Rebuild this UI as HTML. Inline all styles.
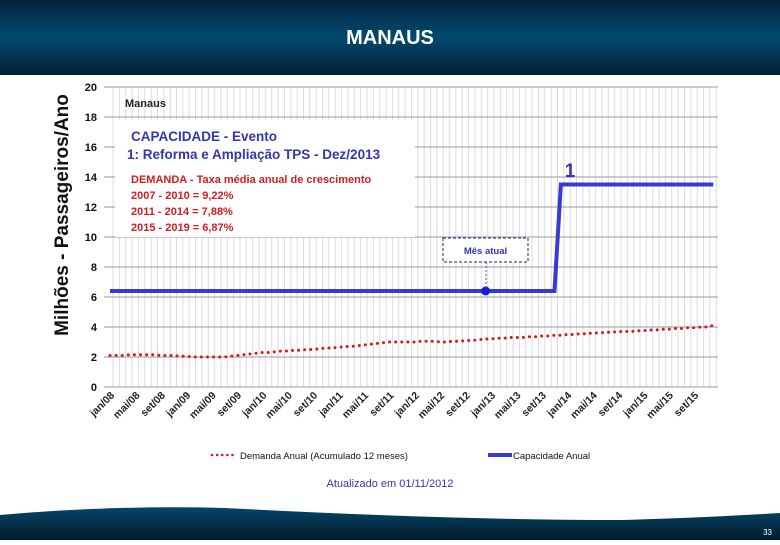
<!DOCTYPE html>
<html><head><meta charset="utf-8"><style>
body{margin:0;width:780px;height:540px;overflow:hidden;background:#fff;font-family:"Liberation Sans",sans-serif}
</style></head><body>
<svg width="780" height="540" xmlns="http://www.w3.org/2000/svg">
<defs>
<linearGradient id="hd" x1="0" y1="0" x2="0" y2="1">
<stop offset="0" stop-color="#06223a"/><stop offset="0.5" stop-color="#024a70"/><stop offset="1" stop-color="#051d30"/></linearGradient>
<linearGradient id="ft" x1="0" y1="0" x2="0" y2="1">
<stop offset="0" stop-color="#03466a"/><stop offset="1" stop-color="#041a2c"/></linearGradient>
</defs>
<rect x="0" y="0" width="780" height="75" fill="url(#hd)"/>
<text x="390" y="44" text-anchor="middle" font-size="20" font-weight="bold" fill="#fff">MANAUS</text>
<path d="M0,515 Q110,505 225,508 Q450,520 620,520 Q700,518 780,513 L780,540 L0,540 Z" fill="url(#ft)"/>
<text x="772" y="535" text-anchor="end" font-size="8" fill="#fff">33</text>
<g id="chart"></g>
<text transform="translate(68,215) rotate(-90)" text-anchor="middle" font-size="19" font-weight="bold" fill="#111">Milhões - Passageiros/Ano</text>
<rect x="115" y="120" width="300" height="117" fill="#fff"/>
<text x="125" y="107" font-size="11" font-weight="bold" fill="#222">Manaus</text>
<text x="131" y="141" font-size="13.5" font-weight="bold" fill="#3535b0">CAPACIDADE - Evento</text>
<text x="127" y="159" font-size="13.5" font-weight="bold" fill="#3535b0">1:  Reforma e Ampliação TPS - Dez/2013</text>
<g font-size="11" font-weight="bold" fill="#d11d1d">
<text x="131" y="183">DEMANDA - Taxa média anual de crescimento</text>
<text x="131" y="199">2007 - 2010 = 9,22%</text>
<text x="131" y="215">2011 - 2014 = 7,88%</text>
<text x="131" y="231">2015 - 2019 = 6,87%</text>
</g>
<rect x="443" y="238" width="85" height="24" fill="#fff" stroke="#222266" stroke-dasharray="3,2"/>
<text x="485.5" y="254" text-anchor="middle" font-size="9.5" font-weight="bold" fill="#3535b0">Mês atual</text>
<line x1="486" y1="262" x2="486" y2="290" stroke="#5555aa" stroke-dasharray="2,2"/>
<text x="570" y="177" text-anchor="middle" font-size="19" font-weight="bold" fill="#3535b0">1</text>
<g>
<line x1="212" y1="455" x2="235" y2="455" stroke="#d11d1d" stroke-width="2.5" stroke-dasharray="0.1,5" stroke-linecap="round"/>
<text x="240" y="459" font-size="9.5" fill="#111">Demanda Anual (Acumulado 12 meses)</text>
<line x1="488" y1="455" x2="512" y2="455" stroke="#3a3ad0" stroke-width="4"/>
<text x="513" y="459" font-size="9.5" fill="#111">Capacidade Anual</text>
</g>
<text x="390" y="487" text-anchor="middle" font-size="11" fill="#3535b0">Atualizado em 01/11/2012</text>
</svg>
<script>
const yTicks=[0,2,4,6,8,10,12,14,16,18,20];
const monthNames=['jan','fev','mar','abr','mai','jun','jul','ago','set','out','nov','dez'];
const years=['08','09','10','11','12','13','14','15'];
const demand=[2.1,2.1,2.1,2.15,2.15,2.15,2.15,2.15,2.1,2.1,2.1,2.05,
2.05,2.0,2.0,2.0,2.0,2.0,2.0,2.05,2.1,2.15,2.2,2.25,
2.3,2.3,2.35,2.4,2.4,2.45,2.45,2.5,2.5,2.55,2.6,2.6,
2.65,2.7,2.7,2.75,2.8,2.85,2.9,2.95,3.0,3.0,3.0,3.0,
3.0,3.05,3.05,3.05,3.0,3.0,3.05,3.05,3.1,3.1,3.15,3.2,
3.2,3.25,3.25,3.3,3.3,3.3,3.35,3.35,3.4,3.4,3.45,3.45,
3.5,3.5,3.55,3.55,3.6,3.6,3.65,3.65,3.7,3.7,3.7,3.75,
3.75,3.8,3.8,3.85,3.85,3.9,3.9,3.95,3.95,4.0,4.0,4.1];
const capacityBefore=6.4, capacityAfter=13.5;
const stepIndex=71; const currentIndex=59;
const categories=[];years.forEach(y=>monthNames.forEach(m=>categories.push(m+'/'+y)));
const capacity=categories.map((c,i)=>i<stepIndex?capacityBefore:capacityAfter);
const NS='http://www.w3.org/2000/svg';
const g=document.getElementById('chart');


const X0=110,DX=6.35,Y0=387,YK=15;
const xs=i=>X0+i*DX, ys=v=>Y0-v*YK;
function el(t,a){const e=document.createElementNS(NS,t);for(const k in a)e.setAttribute(k,a[k]);g.appendChild(e);return e;}
categories.forEach((c,i)=>{const l=el('line',{x1:xs(i)+3,x2:xs(i)+3,y1:88,y2:Y0,stroke:'#dcdcdc','stroke-width':1});

});
yTicks.forEach(v=>{const l=el('line',{x1:104,x2:718,y1:ys(v),y2:ys(v),stroke:'#999','stroke-width':1});


const t=el('text',{x:97,y:ys(v)+4,'text-anchor':'end','font-size':11,'font-weight':'bold',fill:'#111'});t.textContent=v;

});
categories.forEach((c,i)=>{if(i%4)return;const x=xs(i)+5,y=396;
const t=el('text',{x:x,y:y,'text-anchor':'end','font-size':10.5,'font-weight':'bold',fill:'#222',transform:`rotate(-45 ${x} ${y})`});t.textContent=c;

});
const dp=el('polyline',{points:demand.map((v,i)=>xs(i)+','+ys(v)).join(' '),fill:'none',stroke:'#d11d1d','stroke-width':3,'stroke-dasharray':'0.1,6','stroke-linecap':'round'});


const cp=el('polyline',{points:capacity.map((v,i)=>xs(i)+','+ys(v)).join(' '),fill:'none',stroke:'#3a3ad0','stroke-width':4});


const mk=el('circle',{cx:xs(currentIndex)+1,cy:ys(capacity[currentIndex]),r:4.5,fill:'#1a1ae0'});


</script>
</body></html>
